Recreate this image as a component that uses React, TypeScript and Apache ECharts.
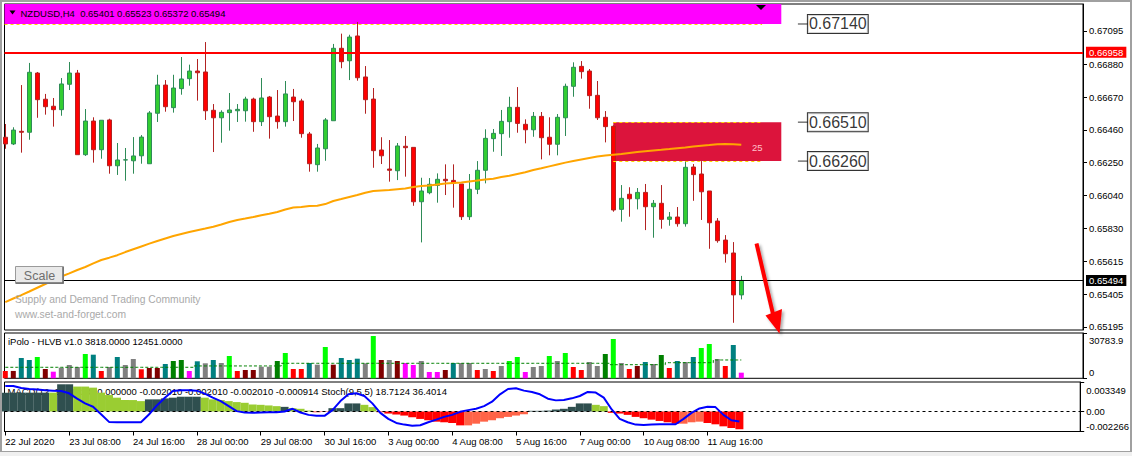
import React, { useEffect, useRef } from 'react';
import * as echarts from 'echarts';

// ---------------- DATA ----------------
const opens = [
  0.66413, 0.66370, 0.66451, 0.66445, 0.66825, 0.66657, 0.66612, 0.66590, 0.66753, 0.66825,
  0.66301, 0.66517, 0.66333, 0.66524, 0.66230, 0.66267, 0.66262, 0.66294, 0.66243, 0.66567,
  0.66748, 0.66603, 0.66725, 0.66789, 0.66838, 0.66832, 0.66586, 0.66538, 0.66571, 0.66583,
  0.66583, 0.66658, 0.66513, 0.66671, 0.66549, 0.66513, 0.66671, 0.66646, 0.66434, 0.66237,
  0.66339, 0.66519, 0.66984, 0.66904, 0.67063, 0.66800, 0.66658, 0.66331, 0.66209, 0.66198,
  0.66355, 0.66348, 0.65999, 0.66057, 0.66104, 0.66143, 0.66136, 0.66113, 0.65903, 0.66079,
  0.66201, 0.66404, 0.66436, 0.66513, 0.66605, 0.66496, 0.66461, 0.66547, 0.66413, 0.66368,
  0.66538, 0.66740, 0.66868, 0.66838, 0.66682, 0.66541, 0.66483, 0.65950, 0.66047, 0.66018,
  0.66059, 0.65967, 0.65989, 0.65886, 0.65901, 0.65858, 0.66222, 0.66177, 0.66068, 0.65875,
  0.65753, 0.65670, 0.65401,
];
const closes = [
  0.66370, 0.66459, 0.66445, 0.66830, 0.66654, 0.66609, 0.66590, 0.66755, 0.66825, 0.66301,
  0.66517, 0.66333, 0.66522, 0.66230, 0.66267, 0.66268, 0.66293, 0.66414, 0.66569, 0.66748,
  0.66609, 0.66729, 0.66787, 0.66838, 0.66827, 0.66583, 0.66538, 0.66573, 0.66588, 0.66592,
  0.66658, 0.66513, 0.66665, 0.66545, 0.66513, 0.66691, 0.66641, 0.66436, 0.66243, 0.66344,
  0.66524, 0.66984, 0.66898, 0.67056, 0.66795, 0.66654, 0.66327, 0.66294, 0.66201, 0.66357,
  0.66346, 0.65999, 0.66068, 0.66111, 0.66143, 0.66134, 0.66119, 0.65903, 0.66079, 0.66201,
  0.66406, 0.66438, 0.66515, 0.66605, 0.66502, 0.66461, 0.66547, 0.66410, 0.66368, 0.66541,
  0.66740, 0.66862, 0.66834, 0.66680, 0.66538, 0.66481, 0.65946, 0.66021, 0.66018, 0.66059,
  0.65967, 0.65989, 0.65886, 0.65901, 0.65858, 0.66220, 0.66173, 0.66063, 0.65864, 0.65749,
  0.65665, 0.65401, 0.65494,
];
const lows = [
  0.66339, 0.66363, 0.66314, 0.66397, 0.66538, 0.66558, 0.66481, 0.66551, 0.66716, 0.66301,
  0.66293, 0.66250, 0.66275, 0.66179, 0.66171, 0.66134, 0.66179, 0.66243, 0.66243, 0.66511,
  0.66577, 0.66571, 0.66686, 0.66744, 0.66648, 0.66524, 0.66318, 0.66378, 0.66455, 0.66511,
  0.66513, 0.66448, 0.66485, 0.66404, 0.66468, 0.66481, 0.66517, 0.66410, 0.66192, 0.66192,
  0.66262, 0.66519, 0.66856, 0.66780, 0.66776, 0.66564, 0.66217, 0.66241, 0.66128, 0.66138,
  0.66160, 0.65973, 0.65738, 0.66047, 0.65993, 0.66042, 0.65961, 0.65882, 0.65882, 0.66048,
  0.66117, 0.66320, 0.66293, 0.66410, 0.66442, 0.66374, 0.66416, 0.66271, 0.66297, 0.66297,
  0.66421, 0.66673, 0.66789, 0.66596, 0.66524, 0.66380, 0.65935, 0.65871, 0.65903, 0.65950,
  0.65817, 0.65768, 0.65826, 0.65845, 0.65839, 0.65839, 0.66005, 0.65882, 0.65697, 0.65736,
  0.65608, 0.65222, 0.65372,
];
const highs = [
  0.66498, 0.66477, 0.66748, 0.66890, 0.66832, 0.66691, 0.66665, 0.66793, 0.66896, 0.66845,
  0.66594, 0.66541, 0.66522, 0.66532, 0.66376, 0.66344, 0.66414, 0.66427, 0.66581, 0.66814,
  0.66780, 0.66814, 0.66928, 0.66879, 0.66915, 0.67024, 0.66626, 0.66586, 0.66697, 0.66626,
  0.66673, 0.66667, 0.66793, 0.66678, 0.66716, 0.66774, 0.66723, 0.66660, 0.66447, 0.66370,
  0.66536, 0.67012, 0.67078, 0.67071, 0.67153, 0.66870, 0.66729, 0.66413, 0.66395, 0.66376,
  0.66421, 0.66348, 0.66153, 0.66151, 0.66181, 0.66239, 0.66239, 0.66113, 0.66177, 0.66260,
  0.66464, 0.66466, 0.66588, 0.66673, 0.66735, 0.66528, 0.66575, 0.66575, 0.66541, 0.66562,
  0.66757, 0.66894, 0.66902, 0.66851, 0.66774, 0.66581, 0.66490, 0.66106, 0.66092, 0.66087,
  0.66113, 0.66010, 0.66106, 0.65933, 0.65965, 0.66260, 0.66241, 0.66260, 0.66068, 0.65894,
  0.65785, 0.65740, 0.65523,
];
const movingAvg = [
  0.65355, 0.65378, 0.65400, 0.65423, 0.65447, 0.65471, 0.65496, 0.65519, 0.65539, 0.65561,
  0.65580, 0.65603, 0.65625, 0.65640, 0.65656, 0.65676, 0.65694, 0.65712, 0.65730, 0.65747,
  0.65763, 0.65779, 0.65792, 0.65805, 0.65816, 0.65827, 0.65839, 0.65853, 0.65869, 0.65882,
  0.65891, 0.65901, 0.65912, 0.65922, 0.65933, 0.65949, 0.65962, 0.65965, 0.65971, 0.65973,
  0.65984, 0.66004, 0.66016, 0.66029, 0.66042, 0.66057, 0.66068, 0.66071, 0.66074, 0.66079,
  0.66084, 0.66093, 0.66100, 0.66104, 0.66110, 0.66116, 0.66119, 0.66122, 0.66129, 0.66135,
  0.66142, 0.66147, 0.66158, 0.66166, 0.66177, 0.66188, 0.66203, 0.66214, 0.66226, 0.66238,
  0.66250, 0.66260, 0.66270, 0.66280, 0.66289, 0.66296, 0.66301, 0.66305, 0.66312, 0.66318,
  0.66323, 0.66328, 0.66332, 0.66337, 0.66343, 0.66347, 0.66354, 0.66359, 0.66363, 0.66368,
  0.66370, 0.66368, 0.66365,
];
const volumes = [
  5000, 5000, 13800, 12440, 14480, 6320, 4490, 7210, 9040, 7680,
  16520, 16050, 4960, 7680, 14480, 9040, 13120, 6120, 7000, 7000,
  9720, 11760, 12440, 4960, 11560, 10200, 12440, 10400, 15160, 4960,
  5640, 5640, 7890, 7890, 11760, 17200, 6320, 6320, 10400, 9250,
  21280, 9250, 13800, 12440, 13330, 10200, 28760, 12440, 12440, 11760,
  10400, 9040, 11760, 4280, 4280, 5640, 10400, 10400, 10400, 5640,
  6320, 4960, 8360, 11760, 14480, 4280, 7680, 8360, 15160, 11760,
  17200, 7680, 5640, 11080, 8360, 16520, 26720, 10400, 6320, 8360,
  11080, 9720, 15840, 7000, 11760, 11080, 14480, 20600, 23320, 13120,
  8360, 22640, 3818,
];
// HLVB volume class per bar: T teal, L lime, R red, M maroon, G gray, P magenta, D green
const volumeClass = (
  'RMTTLMPGGG' + 'LTRGTGGRMM' + 'TDDPTGTGLR' + 'MMGGDLRRTG' + 'LMTTTGLMGM' +
  'PPGPPMTGGR' + 'GRGLLPGGLG' + 'LRRGGDLGRM' + 'TGDRTGTLLG' + 'RTP'
).split('');
const volumeAverage = [
  7480, 7480, 7480, 7480, 7480, 7480, 7480, 7480, 7480, 7480,
  7480, 7480, 7480, 7480, 7480, 7480, 7480, 7480, 7480, 7480,
  7480, 7480, 7480, 7480, 8400, 8400, 8400, 8400, 8400, 8400,
  8400, 8400, 8400, 8400, 8400, 10200, 10200, 10200, 10200, 10200,
  10200, 10200, 10200, 10200, 10200, 10200, 10200, 10200, 10200, 10200,
  10200, 10200, 10200, 10200, 10200, 10200, 10200, 10200, 10200, 10200,
  10200, 10200, 10200, 10200, 10200, 10200, 10200, 10200, 10200, 10200,
  10200, 10200, 10200, 10200, 10200, 10200, 9250, 9250, 9250, 9250,
  9250, 9250, 9250, 10600, 10600, 10600, 10600, 10600, 10600, 12451,
  12451, 12451, 12451,
];
const macdHist = [
  0.00214, 0.00214, 0.00214, 0.00214, 0.00214, 0.00214, 0.00214, 0.00309, 0.00309, 0.00283,
  0.00283, 0.00271, 0.00214, 0.00187, 0.00157, 0.00130, 0.00130, 0.00118, 0.00138, 0.00138,
  0.00149, 0.00157, 0.00168, 0.00168, 0.00168, 0.00157, 0.00138, 0.00130, 0.00118, 0.00107,
  0.00099, 0.00080, 0.00076, 0.00069, 0.00061, 0.00053, 0.00038, 0.00031, 0.00011, -0.00008,
  -0.00004, 0.00038, 0.00038, 0.00092, 0.00092, 0.00076, 0.00050, -0.00008, -0.00023, -0.00034,
  -0.00046, -0.00065, -0.00084, -0.00099, -0.00115, -0.00122, -0.00130, -0.00157, -0.00157, -0.00138,
  -0.00115, -0.00099, -0.00076, -0.00061, -0.00046, -0.00031, 0.00008, 0.00008, 0.00011, 0.00023,
  0.00031, 0.00053, 0.00092, 0.00092, 0.00076, 0.00061, -0.00015, -0.00023, -0.00038, -0.00061,
  -0.00076, -0.00092, -0.00107, -0.00122, -0.00138, -0.00138, -0.00122, -0.00115, -0.00130, -0.00145,
  -0.00168, -0.00187, -0.00201,
];
// 1 = histogram rising (higher timeframe), 0 = falling
const macdRising = (
  '111111' + '0' + '11' + '000000000' + '1111111' + '0000000000' + '1' + '00000' +
  '1111' + '0000000000000' + '1111111111111111' + '00000000000' + '111' + '00000'
).split('').map(Number);
const stochMain = [
  92.3, 92.3, 88.1, 86.0, 84.7, 83.3, 82.6, 81.9, 77.1, 66.0,
  56.3, 49.3, 34.0, 18.1, 17.4, 17.4, 17.4, 17.4, 33.3, 52.1,
  68.1, 81.9, 83.3, 83.3, 82.6, 76.4, 68.1, 61.1, 50.7, 40.3,
  37.5, 36.8, 37.5, 38.2, 38.2, 39.6, 45.1, 37.5, 32.6, 30.6,
  30.6, 42.4, 61.1, 75.0, 77.1, 71.5, 56.3, 36.8, 24.3, 16.0,
  12.5, 10.4, 11.1, 17.4, 22.9, 28.5, 32.6, 38.9, 42.4, 45.1,
  50.7, 59.7, 75.0, 86.0, 87.5, 82.6, 79.9, 75.0, 66.0, 62.5,
  63.2, 66.7, 71.5, 79.9, 78.5, 68.1, 43.8, 24.3, 17.4, 12.5,
  11.8, 12.5, 13.2, 13.2, 13.2, 24.3, 36.8, 45.8, 49.3, 48.6,
  32.6, 21.5, 18.7,
];
const timeLabels = [
  '22 Jul 2020', '23 Jul 08:00', '24 Jul 16:00', '28 Jul 00:00', '29 Jul 08:00', '30 Jul 16:00',
  '3 Aug 00:00', '4 Aug 08:00', '5 Aug 16:00', '7 Aug 00:00', '10 Aug 08:00', '11 Aug 16:00',
];
const timeLabelBars = [0, 8, 16, 24, 32, 40, 48, 56, 64, 72, 80, 88];
const priceTicks = [0.67095, 0.66880, 0.66670, 0.66460, 0.66250, 0.66040, 0.65830, 0.65615, 0.65405, 0.65195];
const resistanceLine = 0.66958;
const supplyZoneLow = 0.67140;
const zoneBars = [76, 97]; // crimson zone time extent (bar index)
const zonePrices = [0.66260, 0.66510];
const levelLabels = [0.67140, 0.66510, 0.66260];
const macdLabel = 'MACD(12, 26, 1, 24) 0.000000 -0.002010 -0.002010 -0.002010 -0.000914 Stoch(9,5,5) 18.7124 36.4014';

// ---------------- LAYOUT ----------------
const FONT = 'Liberation Sans';
const X_MIN = -0.1;
const X_MAX = 134.7125;
const P_MIN = 0.651757;
const P_MAX = 0.672683;
const V_MAX = 30783.9;
const M_MIN = -0.002266;
const M_MAX = 0.003349;
const LEVEL_X = 99.7;

const VOL_COLORS: Record<string, string> = {
  T: '#008080', L: '#00FF00', R: '#FF0000', M: '#800000', G: '#808080', P: '#FF00FF', D: '#008000',
};

export default function App() {
  const ref = useRef<HTMLDivElement>(null);
  useEffect(() => {
    const chart = echarts.init(ref.current!, null, { renderer: 'svg' });
    const n = opens.length;
    const candles = opens.map((o, i) => [i, o, closes[i], lows[i], highs[i]]);
    const lastClose = closes[n - 1];
    const header = `NZDUSD,H4  ${opens[n - 1].toFixed(5)} ${highs[n - 1].toFixed(5)} ${lows[n - 1].toFixed(5)} ${lastClose.toFixed(5)}`;
    const volLabel = `iPolo - HLVB v1.0 ${volumes[n - 1].toFixed(4)} ${volumeAverage[n - 1].toFixed(4)}`;
    const axisTxt = { fontSize: 9.5, color: '#000', fontFamily: FONT };

    const option: any = {
      animation: false,
      backgroundColor: '#ffffff',
      textStyle: { fontFamily: FONT },
      grid: [
        { left: 4.5, top: 4, width: 1078.5, height: 326, show: true, borderColor: '#000', borderWidth: 1, backgroundColor: 'transparent' },
        { left: 4.5, top: 333, width: 1078.5, height: 45.3, show: true, borderColor: '#000', borderWidth: 1, backgroundColor: 'transparent' },
        { left: 4.5, top: 382, width: 1078.5, height: 49.5, show: true, borderColor: '#000', borderWidth: 1, backgroundColor: 'transparent' },
      ],
      xAxis: [
        { type: 'value', gridIndex: 0, min: X_MIN, max: X_MAX, show: false },
        { type: 'value', gridIndex: 1, min: X_MIN, max: X_MAX, show: false },
        {
          type: 'value', gridIndex: 2, min: X_MIN, max: X_MAX, splitLine: { show: false },
          axisLine: { show: true, onZero: false, lineStyle: { color: '#000' } },
          axisTick: { show: true, customValues: timeLabelBars, length: 4, lineStyle: { color: '#000' } },
          axisLabel: {
            customValues: timeLabelBars, align: 'left', margin: 5, ...axisTxt,
            formatter: (v: number) => timeLabels[timeLabelBars.indexOf(Math.round(v))] ?? '',
          },
        },
      ],
      yAxis: [
        {
          type: 'value', gridIndex: 0, position: 'right', min: P_MIN, max: P_MAX, splitLine: { show: false },
          axisLine: { show: true, onZero: false, lineStyle: { color: '#000' } },
          axisTick: { show: true, customValues: priceTicks, length: 4, lineStyle: { color: '#000' } },
          axisLabel: { customValues: priceTicks, margin: 6, ...axisTxt, formatter: (v: number) => v.toFixed(5) },
        },
        {
          type: 'value', gridIndex: 1, position: 'right', min: 0, max: V_MAX, splitLine: { show: false },
          axisLine: { show: true, onZero: false, lineStyle: { color: '#000' } },
          axisTick: { show: true, customValues: [0, V_MAX], length: 4, lineStyle: { color: '#000' } },
          axisLabel: {
            customValues: [V_MAX, 0], margin: 6, ...axisTxt,
            formatter: (v: number) => (Math.abs(v) < 1 ? '{b|0}' : `{t|${v.toFixed(1)}}`),
            rich: { t: { ...axisTxt, padding: [14, 0, 0, 0] }, b: { ...axisTxt, padding: [0, 0, 11, 0] } },
          },
        },
        {
          type: 'value', gridIndex: 2, position: 'right', min: M_MIN, max: M_MAX, splitLine: { show: false },
          axisLine: { show: true, onZero: false, lineStyle: { color: '#000' } },
          axisTick: { show: true, customValues: [M_MAX, 0, M_MIN], length: 4, lineStyle: { color: '#000' } },
          axisLabel: {
            customValues: [M_MAX, 0, M_MIN], margin: 6, ...axisTxt,
            formatter: (v: number) =>
              v > 0.0001 ? `{t|${v.toFixed(6)}}` : v < -0.0001 ? `{b|${v.toFixed(6)}}` : '{m|0.00}',
            rich: {
              t: { ...axisTxt, padding: [16, 0, 0, 0] },
              b: { ...axisTxt, padding: [0, 0, 10, 0] },
              m: { ...axisTxt },
            },
          },
        },
        { type: 'value', gridIndex: 2, min: -1.7, max: 100.4, show: false },
      ],
      series: [
        {
          type: 'scatter', name: 'zones', xAxisIndex: 0, yAxisIndex: 0, silent: true, z: 1,
          data: [[0, P_MIN]], symbolSize: 0,
          markArea: {
            silent: true,
            data: [
              [
                { xAxis: X_MIN, yAxis: supplyZoneLow, itemStyle: { color: '#FF00FF', opacity: 1 } },
                { xAxis: zoneBars[1], yAxis: P_MAX },
              ],
              [
                { xAxis: zoneBars[0], yAxis: zonePrices[0], itemStyle: { color: '#DC143C', opacity: 1 } },
                { xAxis: zoneBars[1], yAxis: zonePrices[1] },
              ],
            ],
          },
          markLine: {
            silent: true, symbol: ['none', 'none'], label: { show: false },
            lineStyle: { color: '#FFD700', type: [3, 3], width: 1 },
            data: [
              [{ coord: [X_MIN, supplyZoneLow] }, { coord: [94.6, supplyZoneLow] }],
              [{ coord: [zoneBars[0], zonePrices[1]] }, { coord: [94.6, zonePrices[1]] }],
              [{ coord: [zoneBars[0], zonePrices[0]] }, { coord: [94.6, zonePrices[0]] }],
            ],
          },
        },
        {
          type: 'scatter', name: 'priceLines', xAxisIndex: 0, yAxisIndex: 0, silent: true, z: 2,
          data: [[0, P_MIN]], symbolSize: 0,
          markLine: {
            silent: true, symbol: ['none', 'none'],
            data: [
              [
                { coord: [X_MIN, resistanceLine], lineStyle: { color: '#FF0000', width: 2, type: 'solid' },
                  label: { show: true, position: 'end', distance: 3, formatter: resistanceLine.toFixed(5), color: '#fff', backgroundColor: '#FF0000', padding: [1, 3, 0, 3], fontSize: 9.5, fontFamily: FONT } },
                { coord: [X_MAX, resistanceLine] },
              ],
              [
                { coord: [X_MIN, lastClose], lineStyle: { color: '#000', width: 1, type: 'solid' },
                  label: { show: true, position: 'end', distance: 3, formatter: lastClose.toFixed(5), color: '#fff', backgroundColor: '#000', padding: [1, 3, 0, 3], fontSize: 9.5, fontFamily: FONT } },
                { coord: [X_MAX, lastClose] },
              ],
            ],
          },
        },
        {
          type: 'candlestick', xAxisIndex: 0, yAxisIndex: 0, data: candles, encode: { x: 0, y: [1, 2, 3, 4] },
          barWidth: 5, z: 3, silent: true,
          itemStyle: { color: '#32CD32', color0: '#FF0000', borderColor: '#2E8B57', borderColor0: '#B22222', borderWidth: 1 },
        },
        {
          type: 'line', xAxisIndex: 0, yAxisIndex: 0, data: movingAvg.map((v, i) => [i, v]), symbol: 'none',
          lineStyle: { color: '#FFA500', width: 2 }, z: 4, silent: true,
        },
        {
          type: 'scatter', xAxisIndex: 0, yAxisIndex: 0, data: levelLabels.map((p) => [LEVEL_X, p]), z: 5, silent: true,
          symbol: 'rect', symbolSize: [10, 1], itemStyle: { color: '#000' },
          label: {
            show: true, position: 'right', distance: 0, formatter: (p: any) => p.value[1].toFixed(5),
            fontSize: 16, fontFamily: FONT, color: '#000', backgroundColor: '#fff', borderColor: '#000', borderWidth: 1,
            padding: [1, 1, 0, 1], lineHeight: 17,
          },
        },
        {
          type: 'bar', xAxisIndex: 1, yAxisIndex: 1, barWidth: 5, silent: true,
          data: volumes.map((v, i) => ({ value: [i, v], itemStyle: { color: VOL_COLORS[volumeClass[i]] } })),
        },
        {
          type: 'line', xAxisIndex: 1, yAxisIndex: 1, step: 'middle', data: volumeAverage.map((v, i) => [i, v]),
          symbol: 'none', lineStyle: { color: '#008000', type: [3, 2], width: 1 }, z: 3, silent: true,
        },
        {
          type: 'bar', xAxisIndex: 2, yAxisIndex: 2, barWidth: 8, silent: true, z: 2,
          data: macdHist.map((v, i) => ({
            value: [i, v],
            itemStyle: { color: v >= 0 ? (macdRising[i] ? '#2F4F4F' : '#9ACD32') : macdRising[i] ? '#FF6347' : '#FF0000' },
          })),
          markLine: {
            silent: true, symbol: ['none', 'none'], label: { show: false },
            lineStyle: { color: '#000', type: [3, 3], width: 1 }, data: [{ yAxis: 0 }],
          },
        },
        {
          type: 'line', xAxisIndex: 2, yAxisIndex: 3, data: stochMain.map((v, i) => [i, v]), symbol: 'none',
          lineStyle: { color: '#0000FF', width: 2 }, z: 5, silent: true,
        },
      ],
      graphic: [
        { type: 'text', x: 7.5, y: 391, z: 1, silent: true, style: { text: macdLabel, fontSize: 9.5, fontFamily: FONT, fill: '#000', verticalAlign: 'middle' } },
        { type: 'rect', z: 100, silent: true, shape: { x: 1, y: 1, width: 1130, height: 451 }, style: { fill: 'none', stroke: '#A0A0A0', lineWidth: 2 } },
        { type: 'rect', z: 100, silent: true, shape: { x: 0, y: 452, width: 1132, height: 4 }, style: { fill: '#F0F0F0' } },
        { type: 'polygon', z: 100, silent: true, shape: { points: [[9.5, 10.5], [15.5, 10.5], [12.5, 14.5]] }, style: { fill: '#000' } },
        { type: 'text', x: 20.5, y: 13, z: 100, silent: true, style: { text: header, fontSize: 9.5, fontFamily: FONT, fill: '#000', verticalAlign: 'middle' } },
        { type: 'polygon', z: 100, silent: true, shape: { points: [[756, 5], [766, 5], [761, 10]] }, style: { fill: '#000' } },
        { type: 'text', x: 8, y: 341, z: 100, silent: true, style: { text: volLabel, fontSize: 9.5, fontFamily: FONT, fill: '#000', verticalAlign: 'middle' } },
        { type: 'text', x: 752, y: 147, z: 100, silent: true, style: { text: '25', fontSize: 9.5, fontFamily: FONT, fill: '#FFC0CB', verticalAlign: 'middle' } },
        { type: 'text', x: 15, y: 299, z: 100, silent: true, style: { text: 'Supply and Demand Trading Community', fontSize: 10.3, fontFamily: FONT, fill: '#A9A9A9', verticalAlign: 'middle' } },
        { type: 'text', x: 15, y: 314, z: 100, silent: true, style: { text: 'www.set-and-forget.com', fontSize: 10.3, fontFamily: FONT, fill: '#A9A9A9', verticalAlign: 'middle' } },
        { type: 'rect', z: 100, silent: true, shape: { x: 15.5, y: 266.5, width: 48, height: 17 }, style: { fill: '#E9E9E9', stroke: '#9A9A9A', lineWidth: 1 } },
        { type: 'polyline', z: 100, silent: true, shape: { points: [[16, 283], [63, 283], [63, 267]] }, style: { stroke: '#6A6A6A', lineWidth: 1.5, fill: 'none' } },
        { type: 'text', x: 39.5, y: 275.5, z: 101, silent: true, style: { text: 'Scale', fontSize: 12.5, fontFamily: FONT, fill: '#6E6E6E', align: 'center', verticalAlign: 'middle' } },
        {
          type: 'line', z: 100, silent: true, shape: { x1: 756.5, y1: 243.5, x2: 773, y2: 314 },
          style: { stroke: '#FF0000', lineWidth: 4, shadowBlur: 3, shadowColor: 'rgba(0,0,0,0.35)', shadowOffsetX: 2, shadowOffsetY: 2 },
        },
        {
          type: 'polygon', z: 100, silent: true, shape: { points: [[765.5, 315.5], [782, 309], [779.5, 333.5]] },
          style: { fill: '#FF0000', shadowBlur: 3, shadowColor: 'rgba(0,0,0,0.35)', shadowOffsetX: 2, shadowOffsetY: 2 },
        },
      ],
    };
    chart.setOption(option);
    return () => chart.dispose();
  }, []);
  return (
    <div
      ref={ref}
      style={{ position: 'fixed', left: 0, top: 0, width: 1132, height: 456, background: '#fff' }}
    />
  );
}
